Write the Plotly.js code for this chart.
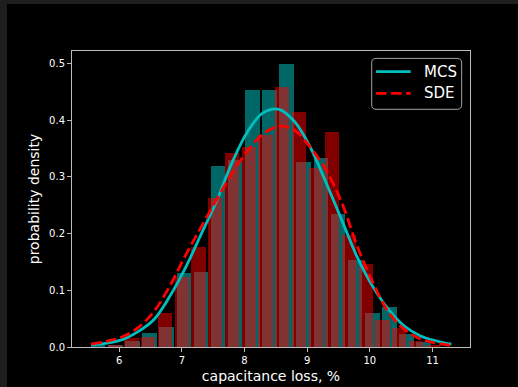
<!DOCTYPE html>
<html>
<head>
<meta charset="utf-8">
<script src="https://cdn.plot.ly/plotly-3.0.1.min.js"></script>
<style>
  html, body { margin: 0; padding: 0; background: #1e1e1e; overflow: hidden; }
  #chart { position: absolute; left: 7px; top: 4px; width: 511px; height: 383px; }
</style>
</head>
<body>
<div id="chart"></div>
<script>
// ---- data ----
// MCS histogram (density), bin centres and heights
const mcsBinCenters = [5.6625, 5.936, 6.2095, 6.483, 6.7565, 7.030, 7.3035, 7.577, 7.8505, 8.124,
                       8.3975, 8.671, 8.9445, 9.218, 9.4915, 9.765, 10.0385, 10.312, 10.5855, 10.859];
const mcsDensity    = [0.0037, 0.0037, 0.011, 0.024, 0.035, 0.130, 0.133, 0.319, 0.330, 0.4536,
                       0.4536, 0.498, 0.326, 0.334, 0.235, 0.153, 0.060, 0.071, 0.023, 0.0085];
const mcsBinWidth = 0.2735;

// SDE histogram (density), bin centres and heights
const sdeBinCenters = [5.930, 6.197, 6.464, 6.731, 6.998, 7.265, 7.532, 7.799, 8.066, 8.333,
                       8.600, 8.867, 9.134, 9.401, 9.668, 9.935, 10.202, 10.469, 10.736, 11.003];
const sdeDensity    = [0.0037, 0.015, 0.017, 0.060, 0.123, 0.176, 0.262, 0.342, 0.352, 0.374,
                       0.459, 0.414, 0.315, 0.379, 0.197, 0.147, 0.047, 0.033, 0.010, 0.0037];
const sdeBinWidth = 0.267;

// fitted density curves
const curveX   = [5.55, 5.80, 6.05, 6.30, 6.55, 6.80, 7.05, 7.30, 7.55, 7.80, 8.05, 8.30,
                  8.55, 8.80, 9.05, 9.30, 9.55, 9.80, 10.05, 10.30, 10.55, 10.80, 11.05, 11.30];
const mcsCurve = [0.004, 0.007, 0.013, 0.027, 0.048, 0.088, 0.138, 0.197, 0.256, 0.325, 0.380, 0.413,
                  0.419, 0.397, 0.352, 0.290, 0.224, 0.158, 0.106, 0.066, 0.037, 0.020, 0.011, 0.005];
const sdeCurve = [0.005, 0.010, 0.018, 0.034, 0.062, 0.106, 0.160, 0.210, 0.259, 0.306, 0.346, 0.376,
                  0.389, 0.382, 0.352, 0.312, 0.255, 0.177, 0.113, 0.061, 0.031, 0.0145, 0.007, 0.003];

const xTicks = [6, 7, 8, 9, 10, 11];
const yTicks = [0.0, 0.1, 0.2, 0.3, 0.4, 0.5];
const seriesNames = ['MCS', 'SDE'];
const xLabel = 'capacitance loss, %';
const yLabel = 'probability density';

// ---- drawing ----
const rwidth = 0.85;
const FONT = 'DejaVu Sans, sans-serif';
const frameColor = '#bdbdbd';
const mcsColor = '#00bfbf';
const sdeColor = '#ff0000';
const LW = 2.8;
const DASH = '10.5px,4.5px';

const traces = [
  {
    type: 'bar', x: mcsBinCenters, y: mcsDensity,
    width: mcsBinCenters.map(() => mcsBinWidth * rwidth),
    marker: { color: 'rgba(0,204,204,0.5)', line: { width: 0 } },
    showlegend: false, hoverinfo: 'skip'
  },
  {
    type: 'bar', x: sdeBinCenters, y: sdeDensity,
    width: sdeBinCenters.map(() => sdeBinWidth * rwidth),
    marker: { color: 'rgba(255,0,0,0.5)', line: { width: 0 } },
    showlegend: false, hoverinfo: 'skip'
  },
  {
    type: 'scatter', mode: 'lines', x: curveX, y: mcsCurve, name: seriesNames[0],
    line: { color: mcsColor, width: LW, shape: 'spline', smoothing: 1 }, showlegend: false
  },
  {
    type: 'scatter', mode: 'lines', x: curveX, y: sdeCurve, name: seriesNames[1],
    line: { color: sdeColor, width: LW, dash: DASH, shape: 'spline', smoothing: 1 }, showlegend: false
  }
];

const axisCommon = {
  showgrid: false, zeroline: false,
  showline: true, linecolor: frameColor, linewidth: 1, mirror: true,
  ticks: 'outside', ticklen: 4, tickwidth: 1, tickcolor: frameColor,
  tickfont: { family: FONT, size: 10, color: '#ffffff' }
};

// manual legend box (paper coordinates of the plot area)
const L = { x0: 0.753, x1: 0.979, y0: 0.803, y1: 0.975, rx: 0.011, ry: 0.015 };
const roundedBox = 'M ' + (L.x0 + L.rx) + ',' + L.y1 +
  ' L ' + (L.x1 - L.rx) + ',' + L.y1 + ' Q ' + L.x1 + ',' + L.y1 + ' ' + L.x1 + ',' + (L.y1 - L.ry) +
  ' L ' + L.x1 + ',' + (L.y0 + L.ry) + ' Q ' + L.x1 + ',' + L.y0 + ' ' + (L.x1 - L.rx) + ',' + L.y0 +
  ' L ' + (L.x0 + L.rx) + ',' + L.y0 + ' Q ' + L.x0 + ',' + L.y0 + ' ' + L.x0 + ',' + (L.y0 + L.ry) +
  ' L ' + L.x0 + ',' + (L.y1 - L.ry) + ' Q ' + L.x0 + ',' + L.y1 + ' ' + (L.x0 + L.rx) + ',' + L.y1 + ' Z';
const rowY = [0.930, 0.857];
const lineX = [0.764, 0.851];
const textX = 0.879;

const shapes = [
  { type: 'path', xref: 'paper', yref: 'paper', path: roundedBox,
    fillcolor: '#000000', line: { color: '#a3a3a3', width: 1 }, layer: 'above' },
  { type: 'line', xref: 'paper', yref: 'paper', x0: lineX[0], x1: lineX[1], y0: rowY[0], y1: rowY[0],
    line: { color: mcsColor, width: LW }, layer: 'above' },
  { type: 'line', xref: 'paper', yref: 'paper', x0: lineX[0], x1: lineX[1], y0: rowY[1], y1: rowY[1],
    line: { color: sdeColor, width: LW, dash: DASH }, layer: 'above' }
];
const annotations = seriesNames.map((n, i) => ({
  xref: 'paper', yref: 'paper', x: textX, y: rowY[i], xanchor: 'left', yanchor: 'middle',
  text: n, showarrow: false, font: { family: FONT, size: 15, color: '#ffffff' }
}));

const layout = {
  width: 511, height: 383,
  paper_bgcolor: '#000000', plot_bgcolor: '#000000',
  margin: { l: 65, r: 48, t: 47, b: 40, pad: 0 },
  barmode: 'overlay', bargap: 0,
  font: { family: FONT, color: '#ffffff' },
  xaxis: Object.assign({}, axisCommon, {
    range: [5.246, 11.598], tickvals: xTicks, ticktext: xTicks.map(String),
    title: { text: xLabel, font: { family: FONT, size: 14, color: '#ffffff' }, standoff: 6 }
  }),
  yaxis: Object.assign({}, axisCommon, {
    range: [0, 0.5217], tickvals: yTicks, ticktext: yTicks.map(v => v.toFixed(1)),
    title: { text: yLabel, font: { family: FONT, size: 14, color: '#ffffff' }, standoff: 6 }
  }),
  shapes: shapes,
  annotations: annotations,
  showlegend: false
};

Plotly.newPlot('chart', traces, layout, { displayModeBar: false, staticPlot: true });
</script>
</body>
</html>
